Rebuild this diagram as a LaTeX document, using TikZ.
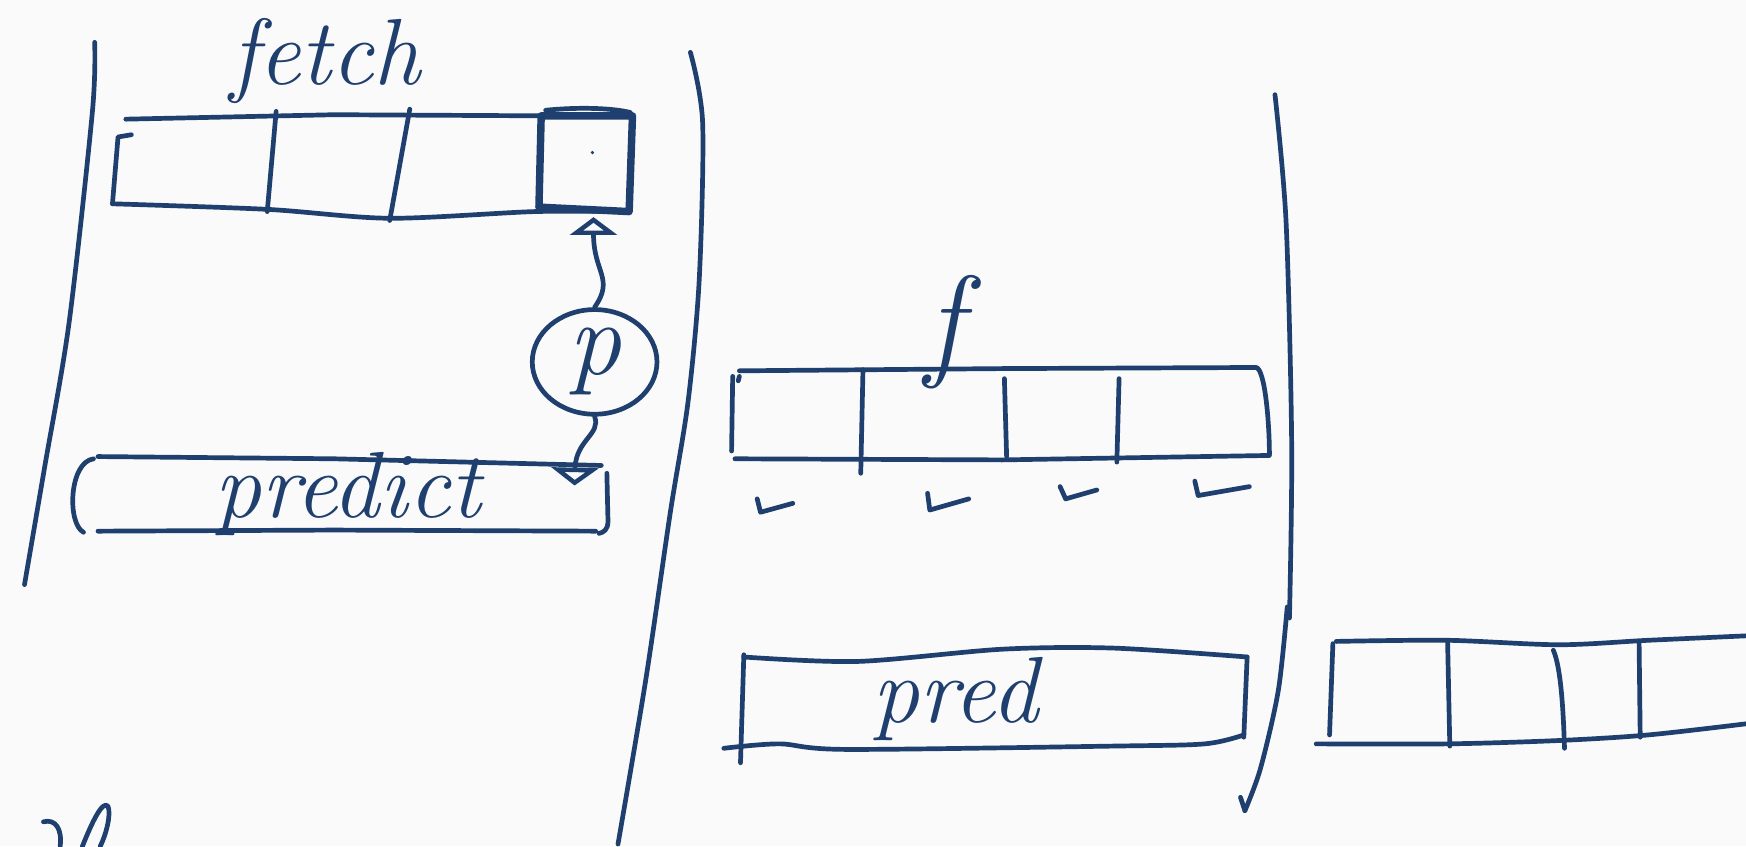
\documentclass[tikz,border=0pt]{standalone}
\usetikzlibrary{arrows.meta,shapes.geometric}
\definecolor{ink}{HTML}{1F3F6E}
\definecolor{paper}{HTML}{FAFAFA}
\begin{document}
\begin{tikzpicture}[x=0.1mm,y=-0.1mm,
  pen/.style={draw=ink, line width=1.2pt, line cap=round, line join=round},
  heavy/.style={draw=ink, line width=1.9pt, line cap=round, line join=round},
  hand/.style={text=ink, inner sep=0pt, font=\fontsize{24}{24}\selectfont\itshape},
  bighand/.style={text=ink, inner sep=0pt, font=\fontsize{32}{32}\selectfont\itshape},
  circhand/.style={text=ink, inner sep=0pt, font=\fontsize{27}{27}\selectfont\itshape},
  opentip/.style={-{Triangle[open, length=1.6mm, width=4.2mm, line width=1.2pt]}}]
\fill[paper] (0,0) rectangle (1568,760);
\useasboundingbox (0,0) rectangle (1568,760);

% ---- left boundary of section 1
\draw[pen] plot[smooth] coordinates {(85,38) (83,100) (62,290) (40,420) (22,525)};

% ---- fetch label and box
\node[hand] (fetch) at (292,55) {fetch};
\draw[pen] (113,107) -- (300,103) -- (486,104);
\draw[pen] (118,121) -- (106,123) -- (101,183);
\draw[pen] plot[smooth] coordinates {(101,183) (240,188) (350,196) (480,190) (562,190)};
\draw[pen] (248,100) -- (240,190);
\draw[pen] (368,98) -- (350,198);
\draw[heavy] (486,104) -- (568,104) -- (565,190) -- (484,186) -- cycle;
\draw[pen] (490,99) .. controls (520,96) and (550,97) .. (566,101);
\coordinate (sqb) at (533,195);
\fill[ink] (532,137) circle (1.6);

% ---- p circle with arrows
\node[pen, ellipse, minimum width=11.2mm, minimum height=9.4mm, circhand] (pc) at (534,325) {p};
\draw[pen, opentip] (pc.north) .. controls (552,250) and (533,245) .. (sqb);

% ---- predict box
\node[hand] (predict) at (312,444) {predict};
\draw[pen] (88,410) -- (300,412) -- (540,418);
\draw[pen] (84,412) .. controls (62,415) and (60,470) .. (75,478);
\draw[pen] (88,477) -- (300,476) -- (535,477);
\draw[pen] (545,425) -- (546,468) .. controls (546,476) and (542,478) .. (538,479);
\coordinate (pt) at (516,436);
\draw[pen, opentip] (pc.south) .. controls (540,390) and (517,395) .. (pt);

% ---- right boundary of section 1
\draw[pen] plot[smooth] coordinates {(620,47) (631,110) (628,250) (618,360) (602,460) (580,610) (555,758)};

% ---- section 2: f box
\node[bighand] (f) at (848,298) {f};
\draw[pen] (664,333) -- (900,331) -- (1128,330) .. controls (1136,331) and (1140,380) .. (1140,408);
\draw[pen] (660,412) -- (900,413) -- (1140,409);
\draw[pen] (658,338) -- (657,405);
\draw[pen] (664,338) -- (663,342);
\draw[pen] (775,332) -- (773,425);
\draw[pen] (902,340) -- (904,410);
\draw[pen] (1005,340) -- (1003,415);

% ticks under cells
\draw[pen] (680,448) -- (683,460) -- (712,452);
\draw[pen] (833,443) -- (835,458) -- (870,448);
\draw[pen] (952,437) -- (957,448) -- (985,440);
\draw[pen] (1073,432) -- (1076,445) -- (1122,437);

% ---- right boundary of section 2
\draw[pen] plot[smooth] coordinates {(1145,85) (1155,200) (1160,400) (1158,555)};
\draw[pen] plot[smooth] coordinates {(1156,545) (1148,620) (1132,690) (1118,728)};
\draw[pen] (1114,716) -- (1118,728);

% ---- pred box
\node[hand] (pred) at (858,628) {pred};
\draw[pen] plot[smooth] coordinates {(668,590) (770,594) (900,583) (1000,582) (1120,590)};
\draw[pen] (1120,590) -- (1117,662);
\draw[pen] plot[smooth] coordinates {(650,672) (700,668) (760,673) (1000,670) (1082,668) (1117,660)};
\draw[pen] (668,588) -- (665,685);

% ---- right partial box
\draw[pen] plot[smooth] coordinates {(1200,576) (1300,575) (1400,579) (1480,575) (1568,571)};
\draw[pen] plot[smooth] coordinates {(1182,668) (1300,668) (1400,665) (1480,660) (1568,650)};
\draw[pen] (1197,578) -- (1194,660);
\draw[pen] (1300,575) -- (1302,670);
\draw[pen] (1395,584) .. controls (1402,600) and (1404,640) .. (1405,672);
\draw[pen] (1472,578) -- (1473,662);

% ---- partial glyph at bottom left
\draw[pen] (39,738) .. controls (50,735) and (56,745) .. (54,760);
\draw[pen] (74,760) .. controls (82,740) and (92,718) .. (97,724) .. controls (100,732) and (95,750) .. (90,760);
\end{tikzpicture}
\end{document}
